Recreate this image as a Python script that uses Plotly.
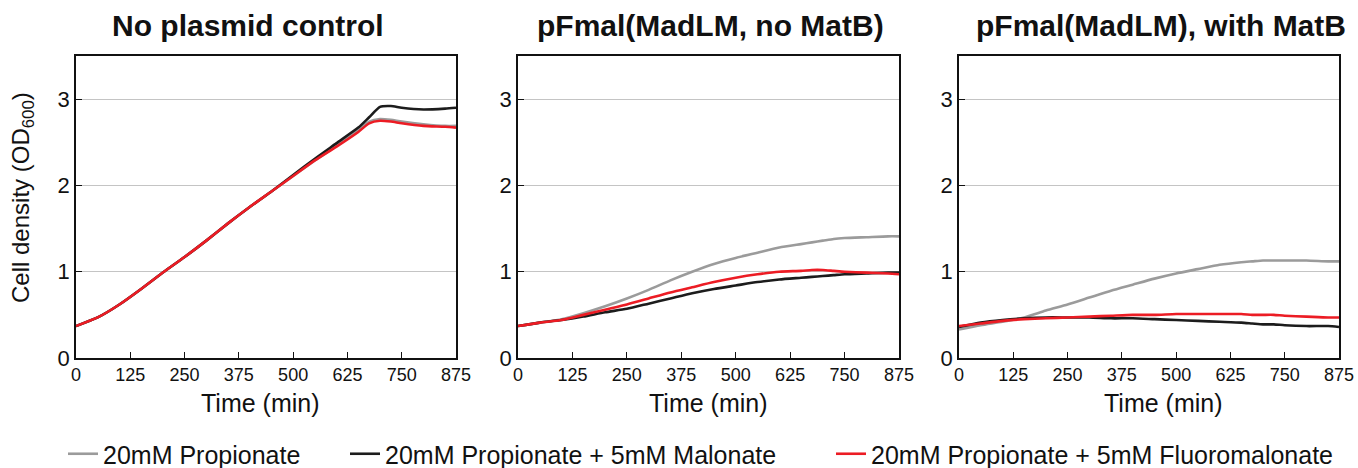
import plotly.graph_objects as go

W, H = 1358, 468

time_min = [0, 50, 100, 150, 200, 250, 300, 350, 400, 450, 500, 550, 600,
            650, 675, 700, 725, 750, 800, 850, 875]

panel_titles = ["No plasmid control", "pFmal(MadLM, no MatB)", "pFmal(MadLM), with MatB"]
series_names = ["20mM Propionate", "20mM Propionate + 5mM Malonate",
                "20mM Propionate + 5mM Fluoromalonate"]
series_colors = ["#9b9b9b", "#1c1c1c", "#ec1c24"]

# Panel 1: No plasmid control
p1_prop = [0.37, 0.47, 0.62, 0.80, 0.99, 1.17, 1.36, 1.56, 1.75, 1.93, 2.11, 2.29, 2.46,
           2.64, 2.74, 2.77, 2.76, 2.74, 2.71, 2.69, 2.69]
p1_mal = [0.37, 0.47, 0.62, 0.80, 0.99, 1.17, 1.36, 1.56, 1.75, 1.93, 2.12, 2.31, 2.49,
          2.67, 2.79, 2.91, 2.92, 2.90, 2.88, 2.89, 2.90]
p1_fmal = [0.37, 0.47, 0.62, 0.80, 0.99, 1.17, 1.36, 1.56, 1.75, 1.93, 2.11, 2.29, 2.45,
           2.62, 2.72, 2.75, 2.74, 2.72, 2.69, 2.68, 2.67]

# Panel 2: pFmal(MadLM, no MatB)
p2_prop = [0.37, 0.41, 0.45, 0.52, 0.60, 0.69, 0.79, 0.90, 1.00, 1.09, 1.16, 1.22, 1.28,
           1.32, 1.34, 1.36, 1.38, 1.39, 1.40, 1.41, 1.41]
p2_mal = [0.37, 0.41, 0.44, 0.48, 0.53, 0.57, 0.63, 0.69, 0.75, 0.80, 0.84, 0.88, 0.91,
          0.93, 0.94, 0.95, 0.96, 0.97, 0.98, 0.99, 0.99]
p2_fmal = [0.37, 0.41, 0.44, 0.50, 0.56, 0.62, 0.69, 0.76, 0.82, 0.88, 0.93, 0.97, 1.00,
           1.01, 1.02, 1.02, 1.01, 1.00, 0.99, 0.98, 0.97]

# Panel 3: pFmal(MadLM), with MatB
p3_prop = [0.33, 0.38, 0.42, 0.47, 0.55, 0.62, 0.70, 0.78, 0.85, 0.92, 0.98, 1.03, 1.08,
           1.11, 1.12, 1.13, 1.13, 1.13, 1.13, 1.12, 1.12]
p3_mal = [0.36, 0.41, 0.44, 0.46, 0.47, 0.47, 0.47, 0.46, 0.46, 0.45, 0.44, 0.43, 0.42,
          0.41, 0.40, 0.39, 0.39, 0.38, 0.37, 0.37, 0.36]
p3_fmal = [0.37, 0.40, 0.43, 0.45, 0.46, 0.47, 0.48, 0.49, 0.50, 0.50, 0.51, 0.51, 0.51,
           0.51, 0.50, 0.50, 0.50, 0.49, 0.48, 0.47, 0.47]

panels = [[p1_prop, p1_mal, p1_fmal], [p2_prop, p2_mal, p2_fmal], [p3_prop, p3_mal, p3_fmal]]

x_ticks = [0, 125, 250, 375, 500, 625, 750, 875]
y_ticks = [0, 1, 2, 3]

FONT = "Liberation Sans, Arial, sans-serif"

# pixel geometry of the panels
x_px = [(76, 456), (518, 899), (959, 1339)]
y_top, y_bot = 56, 358
title_cx = [248, 710, 1161]
xtitle_cx = [260, 708, 1163]
legend_text_x = [105, 387, 873]
legend_names = ["legend", "legend2", "legend3"]

fig = go.Figure()
for i, data in enumerate(panels):
    xa = "x" if i == 0 else f"x{i+1}"
    ya = "y" if i == 0 else f"y{i+1}"
    for j, vals in enumerate(data):
        fig.add_trace(go.Scatter(
            x=time_min, y=vals, mode="lines", xaxis=xa, yaxis=ya,
            name=series_names[j], showlegend=(i == 0), legendgroup=series_names[j],
            legend=legend_names[j],
            line=dict(color=series_colors[j], width=2.6, shape="spline", smoothing=0.6),
        ))

layout = dict(
    width=W, height=H, margin=dict(l=0, r=0, t=0, b=0, autoexpand=False),
    paper_bgcolor="white", plot_bgcolor="white",
    font=dict(family=FONT, color="#111111"),
    showlegend=True,
)
for j, ln in enumerate(legend_names):
    layout[ln] = dict(orientation="h", x=(legend_text_x[j] - 42) / W, xanchor="left",
                      y=1 - 454 / H, yanchor="middle", bgcolor="rgba(0,0,0,0)",
                      font=dict(size=25, family=FONT, color="#111111"), itemwidth=30)

annotations = []
for i in range(3):
    sfx = "" if i == 0 else str(i + 1)
    x0, x1 = x_px[i]
    layout["xaxis" + sfx] = dict(
        domain=[x0 / W, x1 / W], range=[0, 875], tickvals=x_ticks,
        ticks="inside", ticklen=6, tickcolor="#111111", tickwidth=1.3,
        showline=True, linecolor="#111111", linewidth=1.6, mirror=True,
        showgrid=False, zeroline=False, automargin=False,
        tickfont=dict(size=18, family=FONT, color="#111111"),
        anchor="y" + sfx,
    )
    layout["yaxis" + sfx] = dict(
        domain=[1 - y_bot / H, 1 - y_top / H], range=[0, 3.5], tickvals=y_ticks,
        ticks="inside", ticklen=6, tickcolor="#111111", tickwidth=1.3,
        showline=True, linecolor="#111111", linewidth=1.6, mirror=True,
        showgrid=True, gridcolor="#c4c4c4", gridwidth=1.2, zeroline=False, automargin=False,
        tickfont=dict(size=22, family=FONT, color="#111111"),
        anchor="x" + sfx,
    )
    annotations.append(dict(
        text="<b>" + panel_titles[i] + "</b>", x=title_cx[i] / W, y=1 - 25 / H,
        xref="paper", yref="paper", xanchor="center", yanchor="middle", showarrow=False,
        font=dict(size=30, family=FONT, color="#111111"),
    ))
    annotations.append(dict(
        text="Time (min)", x=xtitle_cx[i] / W, y=1 - 403 / H,
        xref="paper", yref="paper", xanchor="center", yanchor="middle", showarrow=False,
        font=dict(size=25, family=FONT, color="#111111"),
    ))
annotations.append(dict(
    text="Cell density (OD<sub>600</sub>)", x=22 / W, y=1 - 198 / H, textangle=-90,
    xref="paper", yref="paper", xanchor="center", yanchor="middle", showarrow=False,
    font=dict(size=24, family=FONT, color="#111111"),
))
layout["annotations"] = annotations
fig.update_layout(**layout)
fig.write_html("out.html", config={"displayModeBar": False},
               post_script="document.body.style.margin='0';document.body.style.padding='0';")
